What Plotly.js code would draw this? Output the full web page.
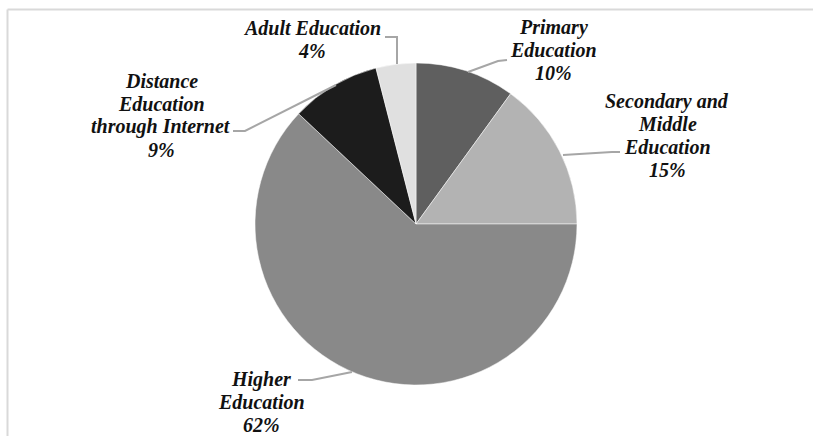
<!DOCTYPE html>
<html>
<head>
<meta charset="utf-8">
<script src="https://cdn.plot.ly/plotly-3.0.1.min.js"></script>
<style>html,body{margin:0;padding:0;background:#fff;}#chart{width:813px;height:436px;}</style>
</head>
<body>
<div id="chart"></div>
<script>
// Data
const categories = ["Primary Education", "Secondary and Middle Education", "Higher Education", "Distance Education through Internet", "Adult Education"];
const shares = [10, 15, 62, 9, 4];
const labelLines = [
  ["Primary", "Education"],
  ["Secondary and", "Middle", "Education"],
  ["Higher", "Education"],
  ["Distance", "Education", "through Internet"],
  ["Adult Education"]
];

// Styling / layout
const W = 813, H = 436;
const colors = ["#5f5f5f", "#b3b3b3", "#898989", "#1c1c1c", "#e0e0e0"];
const cx = 416, cy = 224, r = 161;
const px = x => x / W;
const py = y => 1 - y / H;

// label center x and first baseline (pixels); line step
const labelPos = [[553, 32], [667, 106], [261, 384], [161, 86], [312, 33]];
const lineStep = 23;
const fontSize = 20;
const leaders = [
  [[507, 60], [498, 61], [468, 72]],
  [[620, 152], [612, 152], [563, 155]],
  [[298, 380], [312, 380], [352, 372]],
  [[233, 131], [245, 131], [336, 85]],
  [[385, 37], [397, 37], [397, 64]]
];

const total = shares.reduce((a, b) => a + b, 0);
const fmt = v => Math.round(v / total * 100) + "%";

const annotations = [];
categories.forEach((c, i) => {
  const lines = labelLines[i].concat([fmt(shares[i])]);
  lines.forEach((t, k) => {
    const baseline = labelPos[i][1] + k * lineStep;
    annotations.push({
      x: px(labelPos[i][0]), y: py(baseline - 5), xref: "paper", yref: "paper",
      xanchor: "center", yanchor: "middle", showarrow: false,
      text: t,
      font: {family: "Liberation Serif, Times New Roman, serif", size: fontSize, color: "#111", weight: "bold", style: "italic"}
    });
  });
});

const shapes = leaders.map(pts => ({
  type: "path", xref: "paper", yref: "paper",
  path: pts.map((p, k) => (k ? "L" : "M") + px(p[0]) + "," + py(p[1])).join(" "),
  line: {color: "#a6a6a6", width: 2}
}));
shapes.push({type: "line", xref: "paper", yref: "paper", x0: px(7.5), x1: 1, y0: py(9.5), y1: py(9.5), line: {color: "#d9d9d9", width: 2}});
shapes.push({type: "line", xref: "paper", yref: "paper", x0: px(7.5), x1: px(7.5), y0: py(9.5), y1: 0, line: {color: "#d9d9d9", width: 2}});

const trace = {
  type: "pie",
  labels: categories,
  values: shares,
  sort: false,
  direction: "clockwise",
  rotation: 0,
  textinfo: "none",
  hoverinfo: "label+percent",
  marker: {colors: colors, line: {color: "#ffffff", width: 0.5}},
  domain: {x: [px(cx - r), px(cx + r)], y: [py(cy + r), py(cy - r)]},
  showlegend: false
};

const layout = {
  width: W, height: H,
  margin: {l: 0, r: 0, t: 0, b: 0},
  paper_bgcolor: "#ffffff",
  plot_bgcolor: "#ffffff",
  showlegend: false,
  annotations: annotations,
  shapes: shapes
};

Plotly.newPlot("chart", [trace], layout, {displayModeBar: false, staticPlot: true});
</script>
</body>
</html>
